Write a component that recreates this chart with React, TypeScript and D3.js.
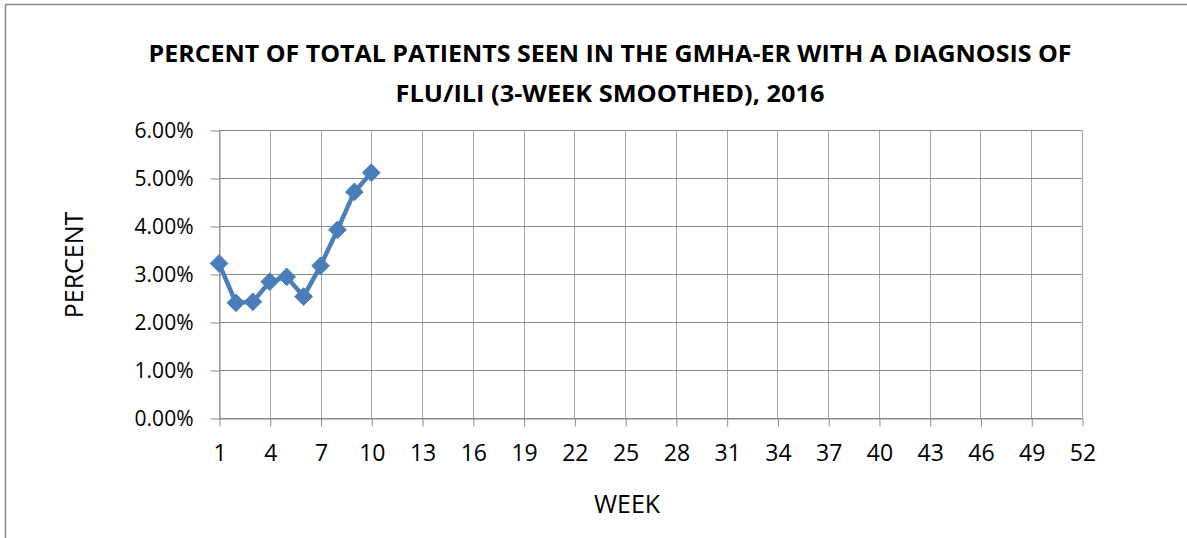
import React, { useEffect, useRef } from "react";
import * as d3 from "d3";

// weekly values, 2016 (3-week smoothed)
const weeks = [1, 2, 3, 4, 5, 6, 7, 8, 9, 10];
const percents = [0.0322, 0.024, 0.0242, 0.0284, 0.0294, 0.0253, 0.0317, 0.0392, 0.0471, 0.0511];
const weekTicks = [1, 4, 7, 10, 13, 16, 19, 22, 25, 28, 31, 34, 37, 40, 43, 46, 49, 52];
const percentTicks = [0, 0.01, 0.02, 0.03, 0.04, 0.05, 0.06];
const titleLines = [
  "PERCENT OF TOTAL PATIENTS SEEN IN THE GMHA-ER WITH A DIAGNOSIS OF",
  "FLU/ILI (3-WEEK SMOOTHED), 2016",
];

const W = 1187;
const H = 538;
const FONT = "'Open Sans', 'Liberation Sans', sans-serif";
const BLUE = "#4a7ebb";

export default function App() {
  const ref = useRef<SVGSVGElement>(null);

  useEffect(() => {
    const svg = d3.select(ref.current);
    svg.selectAll("*").remove();

    const x = d3.scaleLinear().domain([1, 52]).range([219, 1082]);
    const y = d3.scaleLinear().domain([0, 0.06]).range([418, 130]);

    // chart border (only left and top visible)
    svg.append("path")
      .attr("d", `M5.5,${H + 2}V4.5H${W + 2}`)
      .attr("fill", "none")
      .attr("stroke", "#8c8c8c")
      .attr("stroke-width", 1.5);

    // title
    svg.append("g")
      .selectAll("text")
      .data(titleLines)
      .join("text")
      .attr("x", 610)
      .attr("y", (d, i) => 62 + i * 40)
      .attr("text-anchor", "middle")
      .attr("font-family", FONT)
      .attr("font-weight", "bold")
      .attr("font-size", 24)
      .attr("textLength", (d, i) => (i === 0 ? 923 : 429))
      .attr("lengthAdjust", "spacingAndGlyphs")
      .attr("fill", "#000")
      .text(d => d);

    // gridlines
    const grid = svg.append("g");
    grid.selectAll("line.v")
      .data(weekTicks)
      .join("line")
      .attr("class", "v")
      .attr("x1", d => Math.round(x(d)) + 0.5)
      .attr("x2", d => Math.round(x(d)) + 0.5)
      .attr("y1", y(0.06))
      .attr("y2", y(0))
      .attr("stroke", "#a6a6a6");
    grid.selectAll("line.h")
      .data(percentTicks)
      .join("line")
      .attr("class", "h")
      .attr("x1", x(1))
      .attr("x2", x(52))
      .attr("y1", d => Math.round(y(d)) + 0.5)
      .attr("y2", d => Math.round(y(d)) + 0.5)
      .attr("stroke", "#8c8c8c");

    // axes
    const xAxis = svg.append("g")
      .attr("transform", `translate(0.5,${Math.round(y(0)) + 0.5})`)
      .call(d3.axisBottom(x).tickValues(weekTicks).tickSize(8).tickSizeOuter(0).tickPadding(18).tickFormat(d3.format("d")));
    const yAxis = svg.append("g")
      .attr("transform", `translate(${Math.round(x(1)) + 0.5},0.5)`)
      .call(d3.axisLeft(y).tickValues(percentTicks).tickSize(9).tickSizeOuter(0).tickPadding(17).tickFormat(d3.format(".2%")));

    [xAxis, yAxis].forEach(a => {
      a.select(".domain").attr("stroke", "#8c8c8c");
      a.selectAll(".tick line").attr("stroke", "#8c8c8c");
      a.selectAll(".tick text").attr("fill", "#000").attr("font-family", FONT);
    });
    xAxis.selectAll(".tick text").attr("font-size", 23);
    yAxis.selectAll(".tick text").attr("font-size", 21);

    // axis titles
    svg.append("text")
      .attr("transform", "translate(83,265) rotate(-90)")
      .attr("text-anchor", "middle")
      .attr("font-family", FONT)
      .attr("font-size", 25)
      .attr("fill", "#000")
      .text("PERCENT");
    svg.append("text")
      .attr("x", 627)
      .attr("y", 513)
      .attr("text-anchor", "middle")
      .attr("font-family", FONT)
      .attr("font-size", 25)
      .attr("fill", "#000")
      .text("WEEK");

    // series
    const pts = weeks.map((w, i) => [x(w), y(percents[i])] as [number, number]);
    svg.append("path")
      .attr("d", d3.line()(pts))
      .attr("fill", "none")
      .attr("stroke", BLUE)
      .attr("stroke-width", 4.5)
      .attr("stroke-linejoin", "round");
    svg.append("g")
      .selectAll("path")
      .data(pts)
      .join("path")
      .attr("transform", d => `translate(${d[0]},${d[1]})`)
      .attr("d", d3.symbol(d3.symbolDiamond2, 200)())
      .attr("fill", BLUE)
      .attr("stroke", BLUE)
      .attr("stroke-width", 1);
  }, []);

  return (
    <svg
      ref={ref}
      width={W}
      height={H}
      style={{ position: "absolute", left: 0, top: 0, background: "#fff" }}
    />
  );
}
